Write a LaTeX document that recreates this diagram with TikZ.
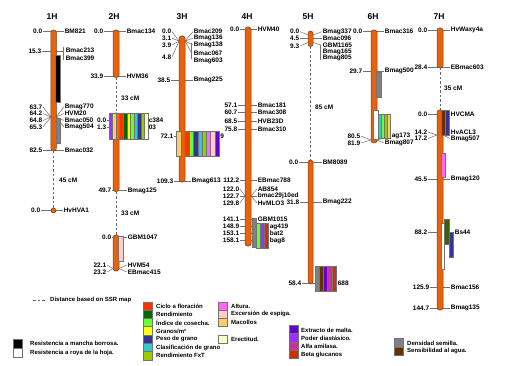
\documentclass[tikz,border=0pt]{standalone}
\usepackage{fontspec}
\setmainfont{Liberation Sans}
\definecolor{chro}{RGB}{232,98,14}
\definecolor{chrd}{RGB}{120,60,20}
\definecolor{cRD}{HTML}{FF3300}
\definecolor{cDG}{HTML}{006600}
\definecolor{cLI}{HTML}{66FF33}
\definecolor{cYE}{HTML}{FFFF00}
\definecolor{cNA}{HTML}{333399}
\definecolor{cTE}{HTML}{33CCCC}
\definecolor{cYG}{HTML}{99CC00}
\definecolor{cMG}{HTML}{FF66FF}
\definecolor{cLP}{HTML}{FFCCCC}
\definecolor{cLO}{HTML}{FFCC66}
\definecolor{cLY}{HTML}{FFFFCC}
\definecolor{cPU}{HTML}{6600CC}
\definecolor{cVI}{HTML}{9933FF}
\definecolor{cMA}{HTML}{CC3399}
\definecolor{cOR}{HTML}{FF6600}
\definecolor{cOT}{HTML}{CC3300}
\definecolor{cGR}{HTML}{808080}
\definecolor{cBR}{HTML}{663300}
\definecolor{cGN}{HTML}{336600}
\newcommand\mf{\fontsize{6.5}{6.5}\selectfont\bfseries}
\newcommand\lf{\fontsize{6}{6}\selectfont\bfseries}
\newcommand\hf{\fontsize{8.5}{8.5}\selectfont\bfseries}
\tikzset{
 chrom/.style={fill=chro, draw=chrd, line width=0.5pt, rounded corners=2.5pt},
 tk/.style={draw=black!55, line width=0.5pt},
 ll/.style={anchor=east, inner sep=0.6pt, font=\mf},
 rl/.style={anchor=west, inner sep=0.6pt, font=\mf},
 dl/.style={draw=black!60, line width=0.7pt, dash pattern=on 2.5pt off 2pt},
 cmt/.style={anchor=west, inner sep=0pt, font=\mf},
 qbox/.style={draw=black!55, line width=0.4pt},
 chl/.style={font=\hf, inner sep=0pt},
 lgt/.style={anchor=west, inner sep=0pt, font=\lf},
}
\newcommand\mk[6]{%
 \node[ll] (#1l) at (#2,#4) {#5};
 \node[rl] (#1r) at (#3,#4) {#6};
 \draw[tk] (#1l.east) -- (#1r.west);}
\newcommand\blk[5]{%
 \foreach \c [count=\i from 0] in {#5} {\path[fill=\c, qbox] ({#1+\i*#4},#2) rectangle ({#1+(\i+1)*#4},#3);}}
\begin{document}
\begin{tikzpicture}[x=1pt,y=-1pt]
\useasboundingbox[fill=white] (0,0) rectangle (505,366);
% ---------------- 1H
\node[chl] (h1) at (52,17) {1H};
\mk{a1}{43}{64}{31.7}{0.0}{BM821}
\node[ll] (a2l) at (42,51) {15.3};
\coordinate (a2b) at (63,51);
\draw[tk] (a2l.east) -- (a2b);
\draw[tk] (63,47) -- (63,60);
\node[rl] (a2r) at (65,50.5) {Bmac213};
\node[rl] (a2s) at (65,58) {Bmac399};
\coordinate (f1L) at (51,117); \coordinate (f1R) at (56,117);
\node[ll] (a3l) at (43,107) {63.7};
\node[ll] (a4l) at (43,113.5) {64.2};
\node[ll] (a5l) at (43,120.5) {64.8};
\node[ll] (a6l) at (43,127) {65.3};
\node[rl] (a3r) at (64,107) {Bmag770};
\node[rl] (a4r) at (64,113.5) {HVM20};
\node[rl] (a5r) at (64,120.5) {Bmac050};
\node[rl] (a6r) at (64,127) {Bmag504};
\foreach \n in {a3,a4,a5,a6}{\draw[tk] (\n l.east) -- (f1L); \draw[tk] (f1R) -- (\n r.west);}
\mk{a7}{43}{64}{150}{82.5}{Bmac032}
\draw[chrom] (50.75,30) rectangle (56.25,151);
\path[fill=black, qbox] (55.5,55) rectangle (60,102);
\path[fill=cGR, qbox] (56,118) rectangle (60.5,143);
\mk{a8}{41}{63}{210.5}{0.0}{HvHVA1}
\node[circle, fill=chro, draw=chrd, line width=0.5pt, minimum size=5pt, inner sep=0pt] (a8c) at (53.5,210.5) {};
\coordinate (a1e) at (53.5,151);
\draw[dl] (a1e) -- (a8c.north);
\node[cmt] (c1) at (59,180) {45 cM};
% ---------------- 2H
\node[chl] (h2) at (114,17) {2H};
\mk{b1}{104}{126}{31.7}{0.0}{Bmac134}
\mk{b2}{104}{126}{76.5}{33.9}{HVM36}
\draw[chrom] (113,30) rectangle (119,77.5);
\coordinate (b2e) at (116,77.5); \coordinate (b3s) at (116,113);
\draw[dl] (b2e) -- (b3s);
\node[cmt] (c2) at (121,98) {33 cM};
\mk{b3}{107}{148}{120.5}{0.0}{c384}
\mk{b4}{107}{148}{127}{1.3}{03}
\mk{b5}{112}{127}{190.5}{49.7}{Bmag125}
\draw[chrom] (113,113) rectangle (119,191.5);
\blk{109}{113}{139}{3.55}{cVI,cLO,cOR,cRD,cDG,cYE,cLI,cTE,cNA,cYG,cLY}
\coordinate (b5e) at (116,191.5); \coordinate (b6s) at (116,235);
\draw[dl] (b5e) -- (b6s);
\node[cmt] (c3) at (121,213) {33 cM};
\mk{b6}{112}{127}{237}{0.0}{GBM1047}
\coordinate (x2L) at (113,268.5); \coordinate (x2R) at (119,268.5);
\node[ll] (b7l) at (107,265) {22.1};
\node[ll] (b8l) at (107,272) {23.2};
\node[rl] (b7r) at (127,265) {HVM54};
\node[rl] (b8r) at (127,272) {EBmac415};
\foreach \n in {b7,b8}{\draw[tk] (\n l.east) -- (x2L); \draw[tk] (x2R) -- (\n r.west);}
\draw[chrom] (113,235) rectangle (119,271);
\path[fill=cLP, qbox] (118,236) rectangle (123,261);
% ---------------- 3H
\node[chl] (h3) at (182,17) {3H};
\coordinate (f3L) at (179,41); \coordinate (f3R) at (185,41);
\node[ll] (c1l) at (172,31.7) {0.0};
\node[ll] (c2l) at (172,38.3) {3.1};
\node[ll] (c3l) at (172,45) {3.9};
\node[ll] (c4l) at (172,57) {4.8};
\foreach \n in {c1,c2,c3,c4}{\draw[tk] (\n l.east) -- (f3L);}
\node[rl] (c1r) at (193,31.7) {Bmac209};
\node[rl] (c2r) at (193,38.3) {Bmag136};
\node[rl] (c3r) at (193,45) {Bmag138};
\node[rl] (c4r) at (193,53.5) {Bmac067};
\node[rl] (c4s) at (193,61) {Bmag603};
\foreach \n in {c1,c2,c3}{\draw[tk] (f3R) -- (\n r.west);}
\coordinate (c4b) at (191.5,53);
\draw[tk] (f3R) -- (c4b);
\draw[tk] (191.5,43) -- (191.5,59);
\mk{c5}{171}{193}{80}{38.5}{Bmag225}
\mk{c6}{174}{219.5}{136}{72.1}{9}
\mk{c7}{174}{191}{181}{109.3}{Bmag613}
\draw[chrom] (179,36) rectangle (185,182);
\path[fill=cLO, qbox] (176,131) rectangle (181,156);
\blk{185}{131}{156}{4.25}{cRD,cLI,cNA,cTE,cYG,cMG,cLP,cPU}
% ---------------- 4H
\node[chl] (h4) at (247,17) {4H};
\mk{d1}{240}{257}{29.5}{0.0}{HVM40}
\mk{d2}{238}{257}{105}{57.1}{Bmac181}
\mk{d3}{238}{257}{112}{60.7}{Bmac308}
\mk{d4}{238}{257}{121}{68.5}{HVB23D}
\mk{d5}{238}{257}{129.5}{75.8}{Bmac310}
\mk{d6}{240}{257}{180}{112.2}{EBmac788}
\coordinate (x4L) at (245,196); \coordinate (x4R) at (251,196);
\node[ll] (d7l) at (240,189) {122.0};
\node[ll] (d8l) at (240,196) {122.7};
\node[ll] (d9l) at (240,203) {129.8};
\node[rl] (d7r) at (257,189) {AB854};
\node[rl] (d8r) at (257,196) {bmac29j10ed};
\node[rl] (d9r) at (257,203) {HvMLO3};
\foreach \n in {d7,d8,d9}{\draw[tk] (\n l.east) -- (x4L); \draw[tk] (x4R) -- (\n r.west);}
\mk{da}{240}{257}{219}{141.1}{GBM1015}
\mk{db}{240}{269}{226.5}{148.9}{ag419}
\mk{dc}{240}{269}{233.5}{153.1}{bat2}
\mk{dd}{240}{269}{240.5}{158.1}{bag8}
\draw[chrom] (245,27) rectangle (251,246);
\path[fill=cGR, qbox] (252,218) rectangle (256,247);
\blk{256}{223}{248}{4.2}{cLI,cVI,cOT}
% ---------------- 5H
\node[chl] (h5) at (308,17) {5H};
\node[ll] (e1l) at (300,31.7) {0.0};
\node[ll] (e2l) at (300,38.5) {4.5};
\node[ll] (e3l) at (300,46) {9.3};
\coordinate (e1p) at (308,35); \coordinate (e2p) at (308,38.5); \coordinate (e3p) at (308,42.5);
\coordinate (e1q) at (313,35); \coordinate (e2q) at (313,38.5); \coordinate (e3q) at (313,42.5);
\draw[tk] (e1l.east) -- (e1p); \draw[tk] (e2l.east) -- (e2p); \draw[tk] (e3l.east) -- (e3p);
\node[rl] (e1r) at (322,31.7) {Bmag337};
\node[rl] (e2r) at (322,38.5) {Bmac096};
\node[rl] (e3r) at (322,45) {GBM1165};
\node[rl] (e4r) at (322,51.7) {Bmag165};
\node[rl] (e5r) at (322,58.4) {Bmag805};
\coordinate (e3b) at (320.7,45);
\draw[tk] (e1q) -- (e1r.west); \draw[tk] (e2q) -- (e2r.west); \draw[tk] (e3q) -- (e3b);
\draw[tk] (320.7,45) -- (320.7,60);
\draw[chrom] (308,31) rectangle (313,46.5);
\coordinate (e3e) at (310.5,46.5); \coordinate (e6s) at (310.5,160);
\draw[dl] (e3e) -- (e6s);
\node[cmt] (c5) at (315,107) {85 cM};
\mk{e6}{299}{322}{162}{0.0}{BM8089}
\mk{e7}{300}{322}{202}{31.8}{Bmag222}
\mk{e8}{302}{337}{283}{58.4}{688}
\draw[chrom] (308,160) rectangle (313,284);
\blk{315}{266}{291}{4.2}{cGR,cBR,cPU,cMA,cOT}
% ---------------- 6H
\node[chl] (h6) at (373,17) {6H};
\mk{f1}{363}{384}{31.7}{0.0}{Bmac316}
\mk{f2}{363}{384}{71}{29.7}{Bmag500}
\coordinate (f6L) at (371,140); \coordinate (f6R) at (377,140);
\node[ll] (f3l) at (361,136) {80.5};
\node[ll] (f4l) at (361,143) {81.9};
\node[rl] (f3r) at (391,136) {ag173};
\node[rl] (f4r) at (384,143) {Bmag807};
\foreach \n in {f3,f4}{\draw[tk] (\n l.east) -- (f6L); \draw[tk] (f6R) -- (\n r.west);}
\draw[chrom] (371,30) rectangle (377,143);
\path[fill=cGR, qbox] (376,72) rectangle (381,97);
\path[fill=white, qbox] (373.5,110) rectangle (378,139);
\blk{378}{114}{138}{3}{cTE,cLI,cYG,cLO}
% ---------------- 7H
\node[chl] (h7) at (439,17) {7H};
\mk{g1}{428}{450}{30}{0.0}{HvWaxy4a}
\mk{g2}{428}{450}{67}{28.4}{EBmac603}
\draw[chrom] (437,28) rectangle (443,68);
\coordinate (g2e) at (440,68); \coordinate (g3s) at (440,110);
\draw[dl] (g2e) -- (g3s);
\node[cmt] (c7) at (444,88) {35 cM};
\mk{g3}{428}{450}{114}{0.0}{HVCMA}
\coordinate (x7L) at (437,135); \coordinate (x7R) at (443,135);
\node[ll] (g4l) at (428,132) {14.2};
\node[ll] (g5l) at (428,138.5) {17.2};
\node[rl] (g4r) at (450,132) {HvACL3};
\node[rl] (g5r) at (450,138.5) {Bmag507};
\foreach \n in {g4,g5}{\draw[tk] (\n l.east) -- (x7L); \draw[tk] (x7R) -- (\n r.west);}
\mk{g6}{428}{450}{179}{45.5}{Bmag120}
\mk{g7}{428}{454}{232}{88.2}{Bs44}
\mk{g8}{430}{450}{287}{125.9}{Bmac156}
\mk{g9}{430}{450}{308}{144.7}{Bmag135}
\draw[chrom] (437,110) rectangle (443,310);
\path[fill=cBR, qbox] (441,110) rectangle (445,135);
\path[fill=cNA, qbox] (445,110) rectangle (449,135);
\path[fill=cMG, qbox] (441,153) rectangle (445,177);
\path[fill=white, qbox] (441,223) rectangle (444.5,269);
\path[fill=cGN, qbox] (444.5,219) rectangle (449,244);
\path[fill=cNA, qbox] (449,232) rectangle (453,257);
% ---------------- legend
\coordinate (ld1) at (33,300); \coordinate (ld2) at (45,300);
\draw[dl] (ld1) -- (ld2);
\node[lgt] (lt0) at (50,300) {Distance based on SSR map};
\path[fill=black, qbox] (13,339) rectangle (22,348);
\path[fill=white, qbox] (13,348) rectangle (22,357);
\node[lgt] (lt1) at (30,343) {Resistencia a mancha borrosa.};
\node[lgt] (lt2) at (30,353) {Resistencia a roya de la hoja.};
\foreach \c/\t [count=\i from 0] in {cRD/{Ciclo a floración}, cDG/{Rendimiento}, cLI/{Índice de cosecha.}, cYE/{Granos/m²}, cNA/{Peso de grano}, cTE/{Clasificación de grano}, cYG/{Rendimiento FxT}}{
 \path[fill=\c, qbox] (143,301.7+\i*8.3) rectangle (152,310+\i*8.3);
 \node[lgt] (la\i) at (156,306+\i*8.3) {\t};}
\foreach \c/\t [count=\i from 0] in {cMG/{Altura.}, cLP/{Excersión de espiga.}, cLO/{Macollos}}{
 \path[fill=\c, qbox] (218,301.7+\i*8.3) rectangle (227,310+\i*8.3);
 \node[lgt] (lb\i) at (231,306+\i*8.3) {\t};}
\path[fill=cLY, qbox] (218,335) rectangle (227,343.3);
\node[lgt] (lb3) at (231,339.5) {Erectitud.};
\foreach \c/\t [count=\i from 0] in {cPU/{Extracto de malta.}, cVI/{Poder diastásico.}, cMA/{Alfa amilasa.}, cOT/{Beta glucanos}}{
 \path[fill=\c, qbox] (289,325+\i*8.4) rectangle (298,333.4+\i*8.4);
 \node[lgt] (lc\i) at (301,330+\i*8.4) {\t};}
\foreach \c/\t [count=\i from 0] in {cGR/{Densidad semilla.}, cBR/{Sensibilidad al agua.}}{
 \path[fill=\c, qbox] (394,338.3+\i*8.4) rectangle (403,346.7+\i*8.4);
 \node[lgt] (ld\i) at (407,343+\i*8.4) {\t};}
\end{tikzpicture}
\end{document}
